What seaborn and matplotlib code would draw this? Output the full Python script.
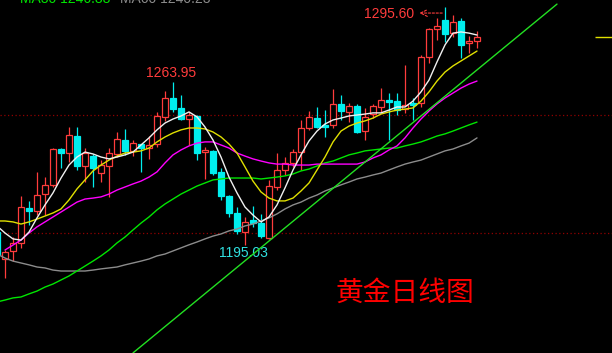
import matplotlib
matplotlib.use("Agg")
import matplotlib.pyplot as plt
import seaborn as sns
import pandas as pd
from matplotlib.patches import Rectangle

# ---------------- data ----------------
idx = list(range(0, 61))
opens = [1200.4, 1189.0, 1192.4, 1195.8, 1210.6, 1209.3, 1216.5, 1220.4, 1235.6, 1233.9,
         1241.1, 1228.4, 1232.6, 1225.4, 1228.4, 1233.5, 1239.4, 1234.8, 1237.7, 1236.0,
         1237.7, 1249.2, 1257.2, 1253.0, 1248.3, 1249.6, 1234.3, 1234.8, 1225.9, 1215.7,
         1208.5, 1200.4, 1205.5, 1204.2, 1197.9, 1219.5, 1226.7, 1229.7, 1234.3, 1244.5,
         1248.7, 1245.8, 1245.8, 1254.7, 1251.3, 1253.8, 1243.2, 1250.4, 1253.4, 1256.4,
         1255.9, 1252.5, 1255.1, 1255.1, 1274.6, 1286.4, 1290.3, 1284.7, 1289.8, 1280.5,
         1281.4]
highs = [1201.0, 1192.8, 1198.3, 1215.7, 1213.6, 1225.9, 1223.7, 1236.0, 1236.0, 1244.9,
         1244.9, 1236.0, 1233.5, 1230.9, 1236.0, 1242.8, 1244.1, 1239.4, 1237.9, 1241.1,
         1251.3, 1260.2, 1263.95, 1258.5, 1251.3, 1250.0, 1236.5, 1235.0, 1227.6, 1215.9,
         1211.0, 1206.8, 1211.5, 1208.1, 1222.5, 1233.9, 1232.2, 1235.6, 1247.9, 1251.7,
         1253.4, 1252.1, 1261.0, 1258.5, 1255.1, 1254.7, 1253.0, 1254.7, 1261.4, 1259.3,
         1259.3, 1271.2, 1257.2, 1275.4, 1286.9, 1291.1, 1295.60, 1292.4, 1291.1, 1283.5,
         1285.6]
lows = [1190.3, 1180.9, 1188.1, 1193.7, 1203.4, 1207.6, 1207.6, 1219.5, 1227.6, 1230.1,
        1226.7, 1221.6, 1219.5, 1221.6, 1215.3, 1232.2, 1233.1, 1232.6, 1225.9, 1231.4,
        1236.5, 1247.5, 1251.3, 1247.9, 1237.3, 1230.9, 1222.9, 1224.6, 1214.0, 1206.8,
        1199.6, 1195.03, 1202.6, 1197.9, 1197.5, 1218.2, 1224.6, 1228.0, 1226.7, 1243.7,
        1244.5, 1240.7, 1244.5, 1247.9, 1247.0, 1242.4, 1239.4, 1248.7, 1251.3, 1239.4,
        1250.0, 1250.9, 1247.9, 1253.4, 1272.0, 1281.8, 1280.9, 1283.0, 1274.2, 1276.3,
        1278.4]
closes = [1190.7, 1192.0, 1195.8, 1211.0, 1209.3, 1216.1, 1220.4, 1235.6, 1233.9, 1241.5,
          1228.4, 1233.9, 1227.6, 1228.8, 1233.9, 1239.8, 1234.8, 1238.1, 1236.0, 1237.3,
          1249.6, 1257.2, 1252.5, 1248.3, 1250.0, 1233.9, 1235.2, 1225.4, 1215.7, 1208.5,
          1200.9, 1204.7, 1204.2, 1198.7, 1219.9, 1226.7, 1229.7, 1234.3, 1244.5, 1249.2,
          1244.9, 1244.9, 1254.7, 1251.7, 1253.8, 1242.8, 1249.2, 1253.8, 1256.4, 1255.5,
          1252.1, 1254.2, 1254.2, 1274.6, 1286.4, 1287.7, 1284.3, 1289.4, 1279.7, 1281.4,
          1283.0]

ma5 = [1203.0, 1200.0, 1197.5, 1197.0, 1200.4, 1206.4, 1211.9, 1217.0, 1223.3, 1228.8,
       1232.2, 1234.3, 1233.5, 1232.2, 1231.4, 1232.2, 1233.1, 1234.3, 1237.3, 1240.3,
       1243.7, 1246.6, 1248.3, 1249.6, 1251.3, 1249.2, 1244.9, 1239.4, 1232.2, 1223.7,
       1217.0, 1211.0, 1207.6, 1204.7, 1206.8, 1211.9, 1219.1, 1226.7, 1233.1, 1239.0,
       1243.2, 1246.2, 1247.9, 1248.7, 1249.6, 1250.0, 1250.4, 1250.9, 1250.9, 1252.1,
       1253.4, 1253.4, 1255.9, 1259.8, 1264.8, 1272.5, 1279.7, 1284.7, 1285.2, 1284.7,
       1283.9]
ma10 = [1205.1, 1205.1, 1204.7, 1203.8, 1204.7, 1205.9, 1207.2, 1208.5, 1210.2, 1214.0,
        1218.7, 1222.5, 1226.3, 1228.8, 1230.9, 1232.6, 1233.9, 1234.3, 1234.8, 1236.0,
        1238.6, 1240.7, 1242.4, 1243.7, 1244.5, 1244.5, 1244.1, 1242.8, 1240.7, 1237.7,
        1233.9, 1228.0, 1222.0, 1217.4, 1214.8, 1213.6, 1213.6, 1214.8, 1217.8, 1221.2,
        1226.7, 1232.2, 1238.6, 1243.2, 1245.3, 1246.6, 1247.5, 1248.7, 1250.4, 1251.3,
        1252.1, 1252.5, 1253.0, 1255.9, 1259.8, 1264.4, 1268.2, 1270.8, 1272.9, 1275.0,
        1277.1]
ma20_idx = list(range(1, 61))
ma20 = [1192.8, 1194.9, 1197.0, 1200.0, 1202.6, 1204.7, 1206.8, 1208.9, 1211.0, 1213.1,
        1214.4, 1214.8, 1215.3, 1216.5, 1218.2, 1219.5, 1220.8, 1222.0, 1223.7, 1225.9,
        1229.7, 1233.1, 1235.2, 1236.9, 1238.1, 1238.6, 1238.6, 1237.3, 1236.0, 1233.9,
        1232.6, 1231.4, 1230.5, 1229.7, 1229.2, 1229.2, 1228.8, 1228.8, 1228.8, 1229.2,
        1229.2, 1229.2, 1229.2, 1229.2, 1229.2, 1230.1, 1231.8, 1233.1, 1235.2, 1236.9,
        1240.3, 1244.5, 1248.3, 1251.7, 1254.7, 1257.2, 1259.3, 1261.4, 1263.1, 1264.4]
ma30 = [1170.8, 1171.6, 1172.5, 1172.9, 1174.2, 1175.4, 1177.1, 1178.4, 1180.1, 1181.8,
        1183.9, 1186.0, 1188.1, 1190.3, 1192.8, 1195.8, 1198.3, 1201.3, 1204.2, 1206.8,
        1209.8, 1212.3, 1214.4, 1216.5, 1218.2, 1219.9, 1221.2, 1222.5, 1222.9, 1223.3,
        1223.3, 1223.3, 1223.3, 1222.9, 1223.3, 1223.7, 1224.2, 1225.0, 1226.3, 1227.1,
        1228.4, 1229.7, 1230.5, 1231.8, 1233.1, 1233.9, 1234.8, 1235.2, 1235.6, 1236.0,
        1236.0, 1236.9, 1237.7, 1238.6, 1239.8, 1241.1, 1242.0, 1243.2, 1244.5, 1245.8,
        1247.0]
ma60 = [1191.1, 1189.4, 1188.1, 1187.3, 1186.5, 1185.6, 1185.2, 1184.3, 1183.9, 1183.9,
        1183.9, 1183.9, 1184.3, 1184.8, 1185.2, 1185.6, 1186.5, 1187.3, 1188.1, 1189.0,
        1190.3, 1191.1, 1192.4, 1193.7, 1195.0, 1196.2, 1197.5, 1198.7, 1199.6, 1200.9,
        1201.7, 1203.0, 1203.8, 1205.1, 1206.4, 1208.1, 1210.2, 1211.9, 1213.1, 1214.8,
        1216.1, 1217.8, 1219.1, 1220.4, 1221.6, 1222.9, 1223.7, 1224.6, 1225.4, 1226.7,
        1228.0, 1229.2, 1230.1, 1230.9, 1232.2, 1233.5, 1234.8, 1235.6, 1236.9, 1238.1,
        1240.3]
trend_x = [17.0, 70.0]
trend_y = [1149.2, 1297.0]
grid_levels = [1200, 1250]
last_price = 1283.0
label_high = "1263.95"
label_top = "1295.60"
label_low = "1195.03"
title = "黄金日线图"
legend_texts = ["MA30 1246.88", "MA60 1240.23"]

# ---------------- style ----------------
sns.set_theme(style="dark", rc={"axes.facecolor": "black", "figure.facecolor": "black"})
plt.rcParams["font.family"] = ["Liberation Sans", "Noto Sans CJK SC", "DejaVu Sans"]

RED = "#ff3c3c"
CYAN = "#00eeee"

fig = plt.figure(figsize=(6.12, 3.53), dpi=100)
ax = fig.add_axes([0, 0, 1, 1])
ax.set_facecolor("black")

# grid lines
for lv in grid_levels:
    ax.axhline(lv, color="#900000", lw=0.9, ls=(0, (1, 2)), zorder=1)

# candles
w = 0.75
for i, o, h, l, c in zip(idx, opens, highs, lows, closes):
    up = c >= o
    col = RED if up else CYAN
    top, bot = max(o, c), min(o, c)
    ax.vlines(i, top, h, color=col, lw=0.9, zorder=2)
    ax.vlines(i, l, bot, color=col, lw=0.9, zorder=2)
    hgt = max(top - bot, 0.25)
    if up:
        ax.add_patch(Rectangle((i - w / 2, bot), w, hgt, facecolor="black",
                               edgecolor=col, lw=0.9, zorder=3))
    else:
        ax.add_patch(Rectangle((i - w / 2, bot), w, hgt, facecolor=col,
                               edgecolor=col, lw=0.9, zorder=3))

# moving averages & trend line
df = pd.DataFrame({"i": idx, "ma5": ma5, "ma10": ma10, "ma30": ma30, "ma60": ma60})
df20 = pd.DataFrame({"i": ma20_idx, "ma20": ma20})
sns.lineplot(data=df, x="i", y="ma60", color="#8c8c8c", lw=1.0, ax=ax, zorder=4)
sns.lineplot(data=df, x="i", y="ma30", color="#00e600", lw=1.0, ax=ax, zorder=4)
sns.lineplot(data=df20, x="i", y="ma20", color="#ff00ff", lw=1.0, ax=ax, zorder=4)
sns.lineplot(data=df, x="i", y="ma10", color="#e0e000", lw=1.0, ax=ax, zorder=4)
sns.lineplot(data=df, x="i", y="ma5", color="#f0f0f0", lw=1.0, ax=ax, zorder=4)
sns.lineplot(x=trend_x, y=trend_y, color="#22e022", lw=1.0, ax=ax, zorder=4)

# last price marker
ax.hlines(last_price, 74.75, 77, color="#e0e000", lw=1.0, zorder=4)

# annotations
ax.text(21.75, 1267.8, label_high, color=RED, fontsize=10, ha="center", va="center")
ax.text(52.2, 1292.8, label_top, color=RED, fontsize=10, ha="right", va="center")
ax.annotate("", xy=(52.45, 1293.2), xytext=(56.0, 1293.2),
            arrowprops=dict(arrowstyle="->", color=RED, lw=0.8, ls=(0, (2, 1.5))))
ax.text(30.75, 1191.5, label_low, color="#30e0e0", fontsize=10, ha="center", va="center")
ax.text(51.0, 1174.6, title, color="#ff0000", fontsize=20, ha="center", va="center",
        family=["Noto Sans CJK SC", "DejaVu Sans"])

# legend row at the very top (mostly cut off, as in the reference)
fig.text(20 / 612, 1 - 3 / 353, legend_texts[0], color="#00e600", fontsize=10, va="baseline")
fig.text(120 / 612, 1 - 3 / 353, legend_texts[1], color="#8c8c8c", fontsize=10, va="baseline")

ax.set_xlim(0.375, 76.875)
ax.set_ylim(1149.16, 1298.73)
ax.set_xticks([])
ax.set_yticks([])
ax.set_xlabel("")
ax.set_ylabel("")
for s in ax.spines.values():
    s.set_visible(False)

fig.savefig("out.png", dpi=100, facecolor="black")
